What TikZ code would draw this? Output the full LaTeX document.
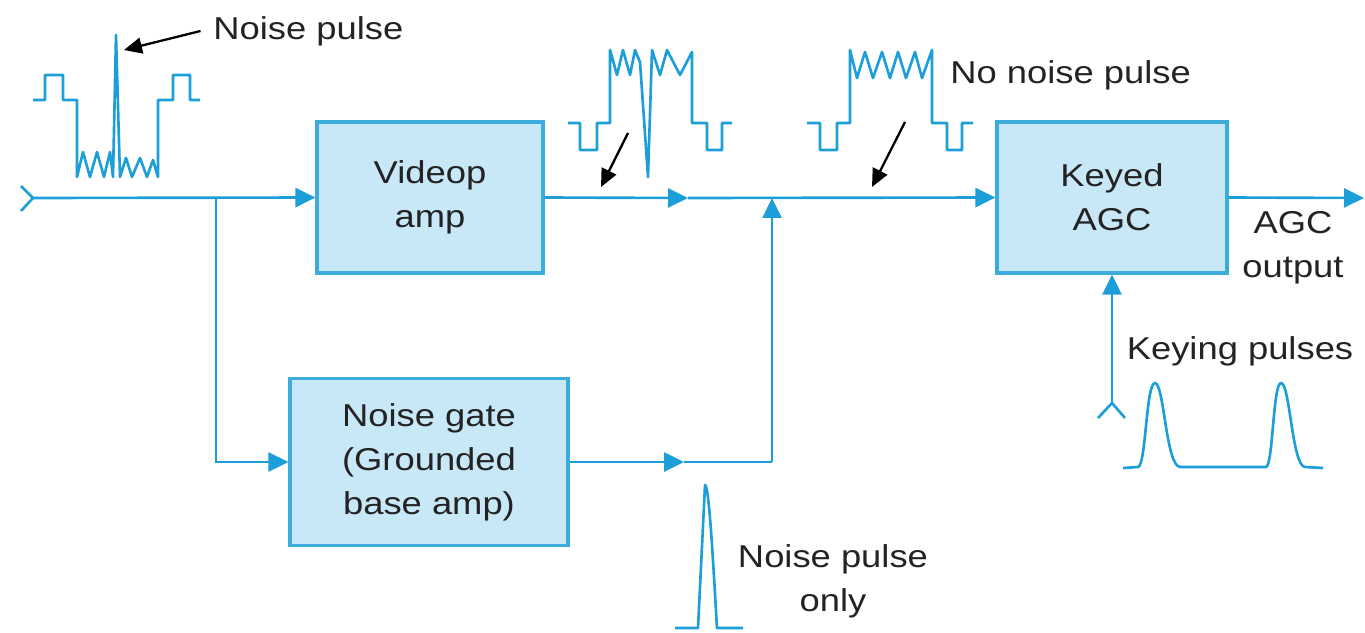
\documentclass[tikz,border=0pt]{standalone}
\usepackage{fontspec}
\setmainfont{Liberation Sans}[FakeStretch=1.15]
\usetikzlibrary{arrows.meta}
\definecolor{wire}{RGB}{28,158,216}
\definecolor{boxfill}{RGB}{200,232,248}
\definecolor{boxline}{RGB}{60,172,220}
\definecolor{txt}{RGB}{35,35,35}
\tikzset{
  blockbox/.style={draw=boxline, line width=1.8pt, fill=boxfill, align=center, text=txt, inner sep=0pt,
    font=\fontsize{18}{25}\selectfont},
  flow/.style={draw=wire, line width=1.5pt, -{Triangle[length=0.4cm,width=0.38cm]}},
  wireline/.style={draw=wire, line width=1.5pt},
  wave/.style={draw=wire, line width=1.5pt, line join=round},
  pointer/.style={draw=black, line width=1.3pt, -{Triangle[length=0.36cm,width=0.32cm]}},
  label/.style={text=txt, align=center, inner sep=0pt, font=\fontsize{18}{25}\selectfont}
}
\begin{document}
\begin{tikzpicture}[x=0.02cm, y=-0.02cm]
\useasboundingbox (0,0) rectangle (1365,632);

% blocks
\node[blockbox, minimum width=4.52cm, minimum height=3.02cm] (vamp) at (430,197.5) {Videop\\amp};
\node[blockbox, minimum width=5.56cm, minimum height=3.34cm] (ngate) at (429,462) {Noise gate\\(Grounded\\base amp)};
\node[blockbox, minimum width=4.6cm, minimum height=3.02cm] (agc) at (1112,197.5) {Keyed\\AGC};

% coordinates
\coordinate (in) at (33,198);
\coordinate (br) at (216,198);
\coordinate (m1) at (688,198);
\coordinate (m2) at (684,462);
\coordinate (j2) at (772,462);
\coordinate (j1) at (772,198);
\coordinate (out) at (1364,198);
\coordinate (kin) at (1112,403);
\coordinate (cu) at (21,186);
\coordinate (cl) at (21,211);
\coordinate (fl) at (1098,418);
\coordinate (fr) at (1125,418);

% connectors
\draw[flow] (in) -- (vamp.west);
\draw[flow] (br) |- (ngate.west);
\draw[flow] (vamp.east) -- (m1);
\draw[flow] (m1) -- (agc.west);
\draw[flow] (ngate.east) -- (m2);
\draw[wireline] (m2) -- (j2);
\draw[flow] (j2) -- (j1);
\draw[flow] (agc.east) -- (out);
\draw[flow] (kin) -- (agc.south);
\draw[wireline] (cu) -- (in) -- (cl);
\draw[wireline] (fl) -- (kin) -- (fr);

% input waveform with noise pulse
\draw[wave] (33,100) -- (45,100) -- (45,75) -- (63,75) -- (63,100) -- (77,100) -- (77,177)
  -- (83,152) -- (90,177) -- (97,152) -- (104,177) -- (110,152) -- (113,177) -- (116,35) -- (120,177)
  -- (126,158) -- (132,177) -- (140,158) -- (147,177) -- (153,160) -- (158,177) -- (158,100)
  -- (173,100) -- (173,75) -- (190,75) -- (190,100) -- (200,100);

% waveform after video amp
\draw[wave] (568,123) -- (580,123) -- (580,150) -- (597,150) -- (597,123) -- (610,123) -- (610,50)
  -- (617,75) -- (623,50) -- (630,75) -- (635,50) -- (640,62) -- (648,177) -- (652,50)
  -- (660,75) -- (667,50) -- (680,75) -- (692,52) -- (692,123) -- (707,123) -- (707,150)
  -- (722,150) -- (722,123) -- (732,123);

% waveform without noise pulse
\draw[wave] (807,123) -- (820,123) -- (820,150) -- (837,150) -- (837,123) -- (850,123) -- (850,50)
  -- (857,78) -- (865,52) -- (873,78) -- (882,52) -- (890,78) -- (898,52) -- (906,78)
  -- (915,52) -- (922,78) -- (932,50) -- (932,123) -- (947,123) -- (947,150) -- (962,150)
  -- (962,123) -- (973,123);

% noise pulse only
\draw[wave] (675,628) -- (698,628) -- (705,485) .. controls (709,485) and (713,560) .. (717,628) -- (743,628);

% keying pulses
\draw[wave] (1123,468) -- (1138,467) .. controls (1146,466) and (1146,383) .. (1155,383)
  .. controls (1164,383) and (1166,466) .. (1180,467) -- (1266,467)
  .. controls (1273,466) and (1273,383) .. (1281,383)
  .. controls (1290,383) and (1292,466) .. (1305,467) -- (1323,468);

% labels
\node[label, anchor=west] (tnp) at (213,31) {Noise pulse};
\node[label, anchor=west] (tnn) at (950,75) {No noise pulse};
\node[label] (tout) at (1293,248) {AGC\\output};
\node[label] (tkey) at (1240,351) {Keying pulses};
\node[label] (tonly) at (833,581) {Noise pulse\\only};

% pointers
\coordinate (p1) at (124,50);
\coordinate (a2s) at (628,133);
\coordinate (a2e) at (601,187);
\coordinate (a3s) at (905,122);
\coordinate (a3e) at (872,187);
\draw[pointer] ([xshift=-0.25cm]tnp.west) -- (p1);
\draw[pointer] (a2s) -- (a2e);
\draw[pointer] (a3s) -- (a3e);
\end{tikzpicture}
\end{document}
